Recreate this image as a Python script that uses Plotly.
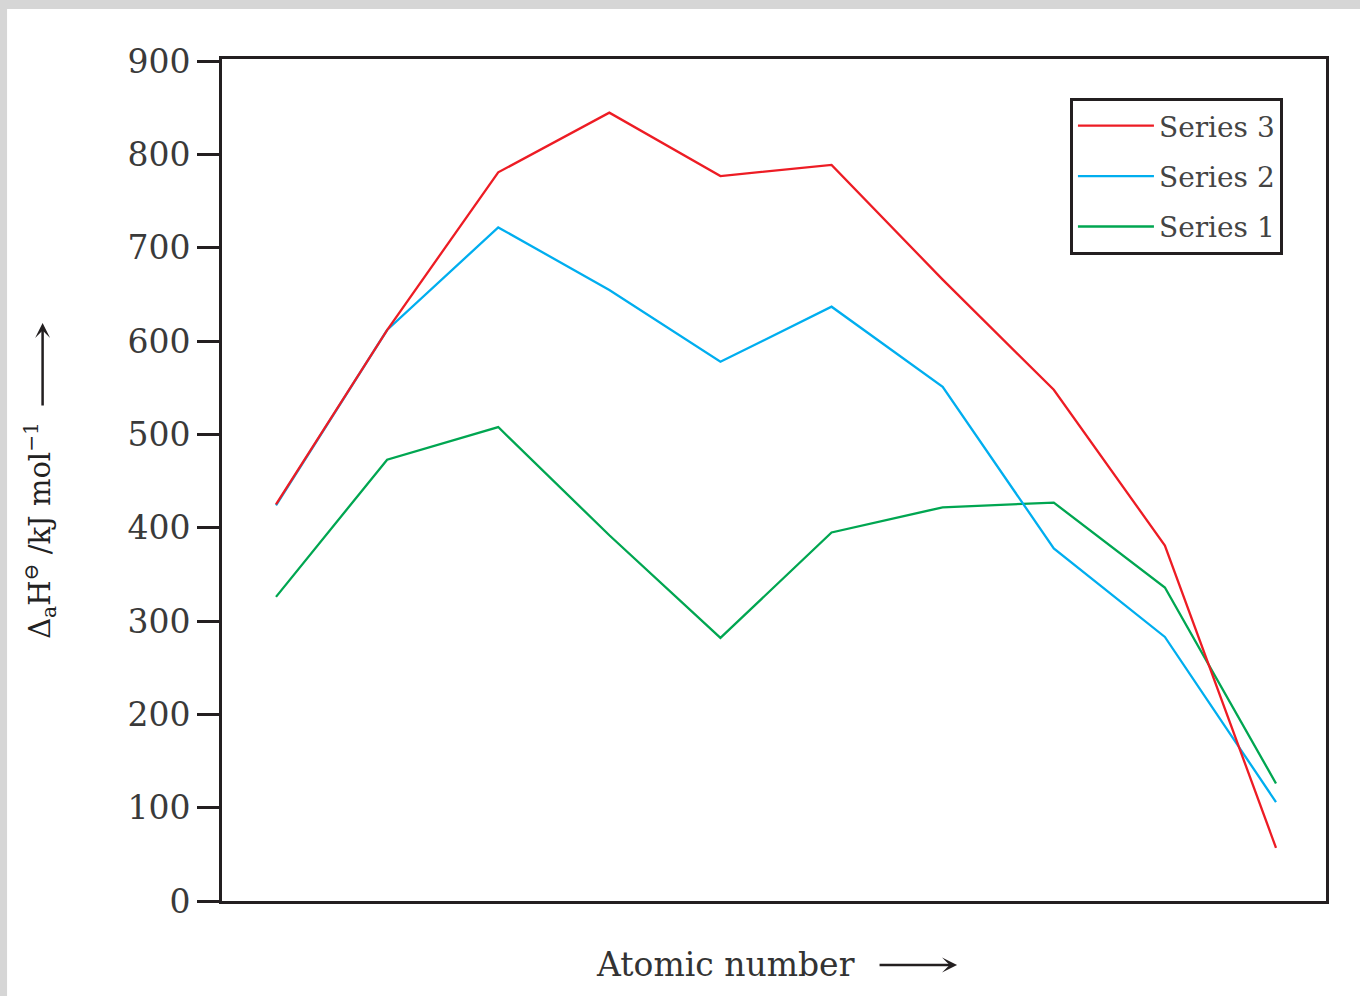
import plotly.graph_objects as go

x_vals = [1, 2, 3, 4, 5, 6, 7, 8, 9, 10]
series1 = [326, 473, 508, 392, 282, 395, 422, 427, 336, 126]
series2 = [424, 612, 722, 655, 578, 637, 551, 378, 283, 106]
series3 = [425, 612, 781, 845, 777, 789, 666, 548, 381, 57]
y_ticks = [0, 100, 200, 300, 400, 500, 600, 700, 800, 900]

names = ["Series 1", "Series 2", "Series 3"]
colors = ["#00A651", "#00AEEF", "#ED1C24"]
ranks = [3, 2, 1]

fig = go.Figure()
for name, ys, c, rk in zip(names, [series1, series2, series3], colors, ranks):
    fig.add_trace(go.Scatter(x=x_vals, y=ys, mode="lines", name=name,
                             legendgroup=name, legendrank=rk,
                             line=dict(color=c, width=2.3)))

font_family = "DejaVu Serif, Liberation Serif, serif"
axis_color = "#231F20"
text_color = "#2a2a2a"

fig.update_layout(
    width=1360, height=996,
    margin=dict(l=222, r=34, t=59, b=95),
    paper_bgcolor="#d6d6d6",
    plot_bgcolor="white",
    font=dict(family=font_family, color=text_color, size=26),
    showlegend=True,
    legend=dict(
        x=0.961, y=0.9537, xanchor="right", yanchor="top",
        traceorder="grouped",
        bgcolor="white", bordercolor=axis_color, borderwidth=3,
        font=dict(size=28, family=font_family, color="#444444"),
        itemwidth=76, tracegroupgap=11,
    ),
    xaxis=dict(
        range=[0.514, 10.45], showticklabels=False, ticks="",
        showgrid=False, zeroline=False,
        showline=True, mirror=True, linecolor=axis_color, linewidth=3,
    ),
    yaxis=dict(
        range=[0, 902.5], tickvals=y_ticks, ticktext=[str(v) for v in y_ticks],
        ticks="outside", ticklen=22, tickwidth=3, tickcolor=axis_color,
        showgrid=False, zeroline=False,
        showline=True, mirror=True, linecolor=axis_color, linewidth=3,
        tickfont=dict(size=33, family=font_family, color="#3a3a3a"),
    ),
    shapes=[dict(type="rect", xref="paper", yref="paper",
                 x0=-0.1947, x1=1.1, y0=-0.3, y1=1.0594,
                 fillcolor="white", line=dict(width=0), layer="below")],
    annotations=[
        dict(text="Atomic number", xref="paper", yref="paper",
             x=0.4565, y=-0.076, xanchor="center", yanchor="middle",
             showarrow=False, font=dict(size=33, family=font_family, color="#333333")),
        dict(text="", xref="paper", yref="paper", x=0.6658, y=-0.076,
             ax=-79, ay=0, showarrow=True, arrowhead=3, arrowsize=1,
             arrowwidth=2.5, arrowcolor=axis_color),
        dict(text="Δ<sub>a</sub>H<sup>⊖</sup> /kJ mol<sup>−1</sup>", xref="paper", yref="paper",
             x=-0.165, y=0.4406, xanchor="center", yanchor="middle", textangle=-90,
             showarrow=False, font=dict(size=29, family=font_family, color="#222222")),
        dict(text="", xref="paper", yref="paper", x=-0.1625, y=0.6865,
             ax=0, ay=84, showarrow=True, arrowhead=3, arrowsize=1,
             arrowwidth=2.5, arrowcolor=axis_color),
    ],
)

fig.write_html("out.html")
